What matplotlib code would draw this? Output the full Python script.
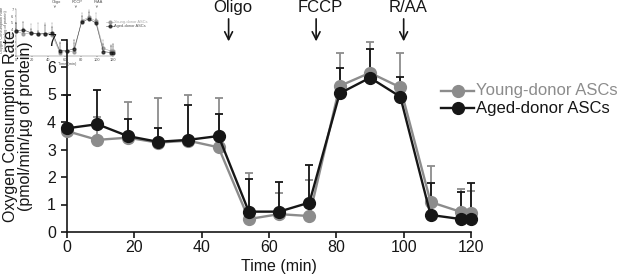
import matplotlib
matplotlib.use('Agg')
import matplotlib.pyplot as plt
from matplotlib.lines import Line2D

plt.rcParams['font.family'] = ['Liberation Sans', 'DejaVu Sans']

# ---- data ----
time_min = [0, 9, 18, 27, 36, 45, 54, 63, 72, 81, 90, 99, 108, 117, 120]
young_ocr = [3.67, 3.35, 3.43, 3.25, 3.32, 3.08, 0.47, 0.65, 0.58, 5.31, 5.79, 5.26, 1.09, 0.73, 0.70]
young_err = [1.33, 0.84, 1.31, 1.63, 1.68, 1.80, 1.66, 0.78, 1.31, 1.19, 1.11, 1.26, 1.31, 0.82, 0.80]
aged_ocr = [3.77, 3.92, 3.49, 3.28, 3.35, 3.49, 0.74, 0.74, 1.07, 5.04, 5.61, 4.92, 0.62, 0.47, 0.47]
aged_err = [1.23, 1.24, 0.62, 0.49, 1.26, 0.79, 1.19, 1.08, 1.38, 0.94, 1.03, 0.70, 1.15, 1.00, 1.30]
series_labels = ['Young-donor ASCs', 'Aged-donor ASCs']
injections = ['Oligo', 'FCCP', 'R/AA']
injection_times = [48, 74, 100]
x_ticks = [0, 20, 40, 60, 80, 100, 120]
y_ticks = [0, 1, 2, 3, 4, 5, 6, 7]
x_label = 'Time (min)'
y_label = 'Oxygen Consumption Rate\n(pmol/min/\u00b5g of protein)'

W, H = 617, 276
GREY = '#8c8c8c'
BLACK = '#161616'

fig = plt.figure(figsize=(W / 100, H / 100), dpi=100)


def draw(s, ox, oy, alpha=1.0):
    def fx(x):
        return (ox + s * x) / W

    def fy(y):
        return 1 - (oy + s * y) / H

    L, R, T, B = 67, 471, 39.5, 232
    ax = fig.add_axes([fx(L), fy(B), fx(R) - fx(L), fy(T) - fy(B)])
    ax.patch.set_visible(False)
    for sp in ['top', 'right']:
        ax.spines[sp].set_visible(False)
    for sp in ['left', 'bottom']:
        ax.spines[sp].set_linewidth(1.2 * s)
        ax.spines[sp].set_color(BLACK)
        ax.spines[sp].set_alpha(alpha)

    colors = [GREY, BLACK]
    datas = [(young_ocr, young_err), (aged_ocr, aged_err)]
    for (vals, errs), c in zip(datas, colors):
        ax.errorbar(time_min, vals, yerr=[[0] * len(errs), errs], fmt='none',
                    ecolor=c, elinewidth=1.3 * s, capsize=3 * s, capthick=1.3 * s,
                    clip_on=False, alpha=alpha)
    for (vals, errs), c in zip(datas, colors):
        ax.plot(time_min, vals, '-o', color=c, lw=1.7 * s, ms=8.5 * s,
                clip_on=False, zorder=3, alpha=alpha)

    ax.set_xlim(0, 120)
    ax.set_ylim(0, 7)
    ax.set_xticks(x_ticks)
    ax.set_yticks(y_ticks)
    ax.tick_params(direction='out', length=4 * s, width=1.2 * s,
                   labelsize=11.5 * s, colors=BLACK)
    ax.tick_params(axis='x', pad=1.5 * s)
    ax.tick_params(axis='y', pad=4 * s)
    for lab in ax.get_xticklabels() + ax.get_yticklabels():
        lab.set_alpha(alpha)

    for name, t in zip(injections, injection_times):
        ax.annotate('', xy=(t, 6.83), xytext=(t, 7.85),
                    arrowprops=dict(arrowstyle='->', lw=1.2 * s, color=BLACK,
                                    mutation_scale=14 * s, alpha=alpha),
                    annotation_clip=False)
        ax.text(t + 1.3, 8.15, name, ha='center', va='center',
                fontsize=12 * s, color=BLACK, alpha=alpha, clip_on=False)

    fig.text(fx(279), fy(266), x_label, ha='center', va='center',
             fontsize=11.5 * s, color=BLACK, alpha=alpha)
    fig.text(fx(18), fy(126), y_label, ha='center', va='center', rotation=90,
             fontsize=11.5 * s, color=BLACK, linespacing=1.05, alpha=alpha)

    # legend
    for i, (lab, c) in enumerate(zip(series_labels, colors)):
        yy = 91 + 17 * i
        fig.add_artist(Line2D([fx(441), fx(474)], [fy(yy), fy(yy)],
                              transform=fig.transFigure, color=c, lw=1.7 * s,
                              alpha=alpha))
        fig.add_artist(Line2D([fx(458)], [fy(yy)], transform=fig.transFigure,
                              marker='o', ms=8.5 * s, color=c, alpha=alpha))
        fig.text(fx(476), fy(yy), lab, ha='left', va='center',
                 fontsize=12 * s, color=c, alpha=alpha)


# small thumbnail copy in top-left corner (as in reference)
draw(0.24, 0, 0, alpha=0.75)
# main chart
draw(1.0, 0, 0)

fig.savefig('out.png', dpi=100)
